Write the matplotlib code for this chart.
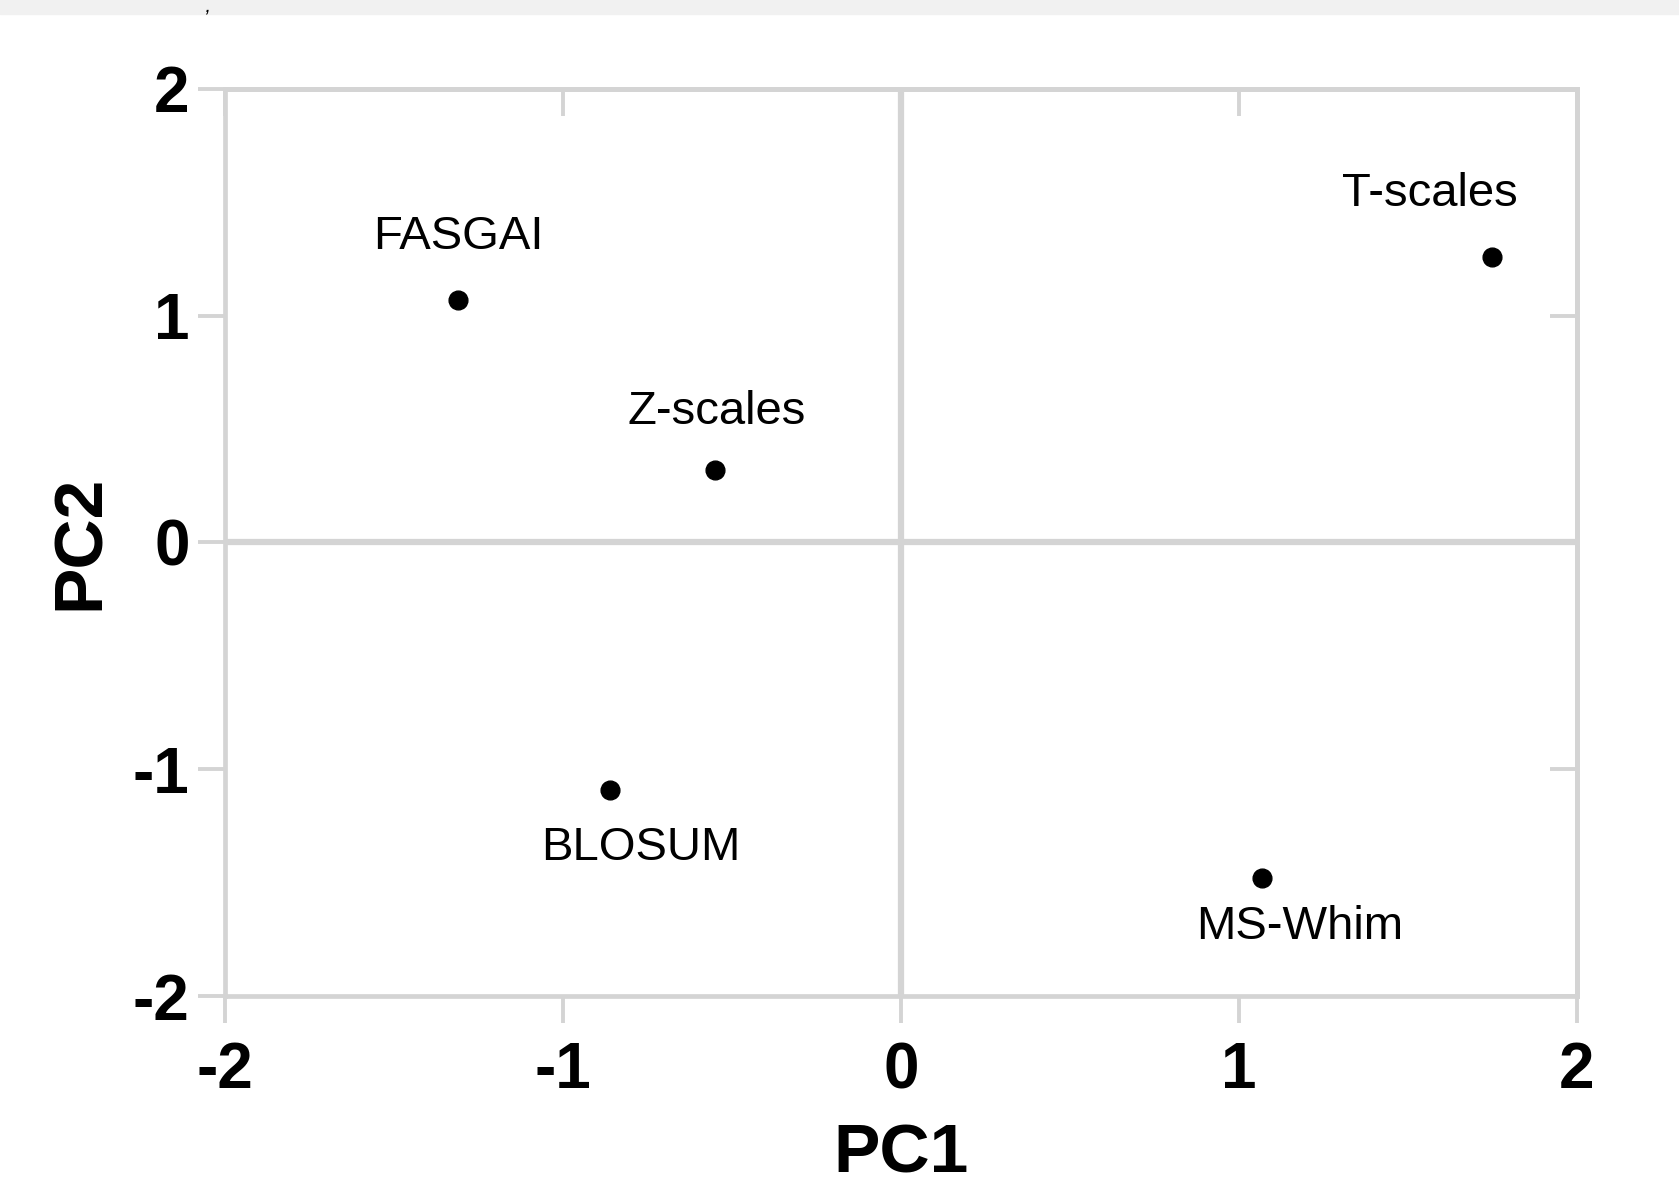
import numpy as np
import matplotlib.pyplot as plt
from matplotlib.patches import Rectangle

# ── Data ──────────────────────────────────────
names = ["FASGAI", "Z-scales", "T-scales", "BLOSUM", "MS-Whim"]
pc1   = [-1.31, -0.55, 1.75, -0.86, 1.07]
pc2   = [1.07, 0.32, 1.26, -1.09, -1.48]
ticks = [-2, -1, 0, 1, 2]

# label offsets from each point (points)
offsets = [(0, 45), (1, 42), (-45, 45), (22, -42), (27, -35)]

GRAY = "#d4d4d4"
plt.rcParams["font.family"] = ["Liberation Sans", "DejaVu Sans"]
plt.rcParams["axes.unicode_minus"] = False

fig = plt.figure(figsize=(16.79, 11.99), dpi=100)
ax = fig.add_axes([0.134, 0.1693, 0.805, 0.7565])

# grey strip at the very top of the cropped image
fig.add_artist(Rectangle((0, 0.988), 1, 0.012, transform=fig.transFigure,
                         color="#f1f1f1", zorder=0))
fig.text(0.122, 0.9995, ",", fontsize=10, fontweight="bold", style="italic",
         ha="left", va="top")

# ── Zero lines ──
ax.axhline(0, color=GRAY, linewidth=4.5, zorder=1)
ax.axvline(0, color=GRAY, linewidth=4.5, zorder=1)

# ── Points + labels ──
ax.plot(pc1, pc2, "o", color="black", markersize=13.5, zorder=3)
for name, x, y, (dx, dy) in zip(names, pc1, pc2, offsets):
    ax.annotate(name, (x, y), xytext=(dx, dy), textcoords="offset points",
                ha="center", va="center", fontsize=34, color="black")

ax.set_xlim(-2, 2)
ax.set_ylim(-2, 2)
ax.set_xticks(ticks)
ax.set_yticks(ticks)

for s in ax.spines.values():
    s.set_color(GRAY)
    s.set_linewidth(3.4)

ax.tick_params(direction="out", length=19.5, width=2.8, color=GRAY,
               labelsize=46)
ax.tick_params(axis="x", pad=13)
ax.tick_params(axis="y", pad=6)
for lab in ax.get_xticklabels() + ax.get_yticklabels():
    lab.set_fontweight("bold")

# inward ticks on top and right
top = ax.secondary_xaxis("top")
top.set_xticks(ticks)
top.tick_params(direction="in", length=19.5, width=2.8, color=GRAY,
                labeltop=False)
top.spines["top"].set_color(GRAY)
top.spines["top"].set_linewidth(3.4)
right = ax.secondary_yaxis("right")
right.set_yticks(ticks)
right.tick_params(direction="in", length=19.5, width=2.8, color=GRAY,
                  labelright=False)
right.spines["right"].set_color(GRAY)
right.spines["right"].set_linewidth(3.4)

ax.set_xlabel("PC1", fontsize=50, fontweight="bold")
ax.set_ylabel("PC2", fontsize=50, fontweight="bold")
ax.xaxis.set_label_coords(0.5, -0.14)
ax.yaxis.set_label_coords(-0.083, 0.5)
ax.xaxis.label.set_va("top")

plt.savefig("out.png", dpi=100)
